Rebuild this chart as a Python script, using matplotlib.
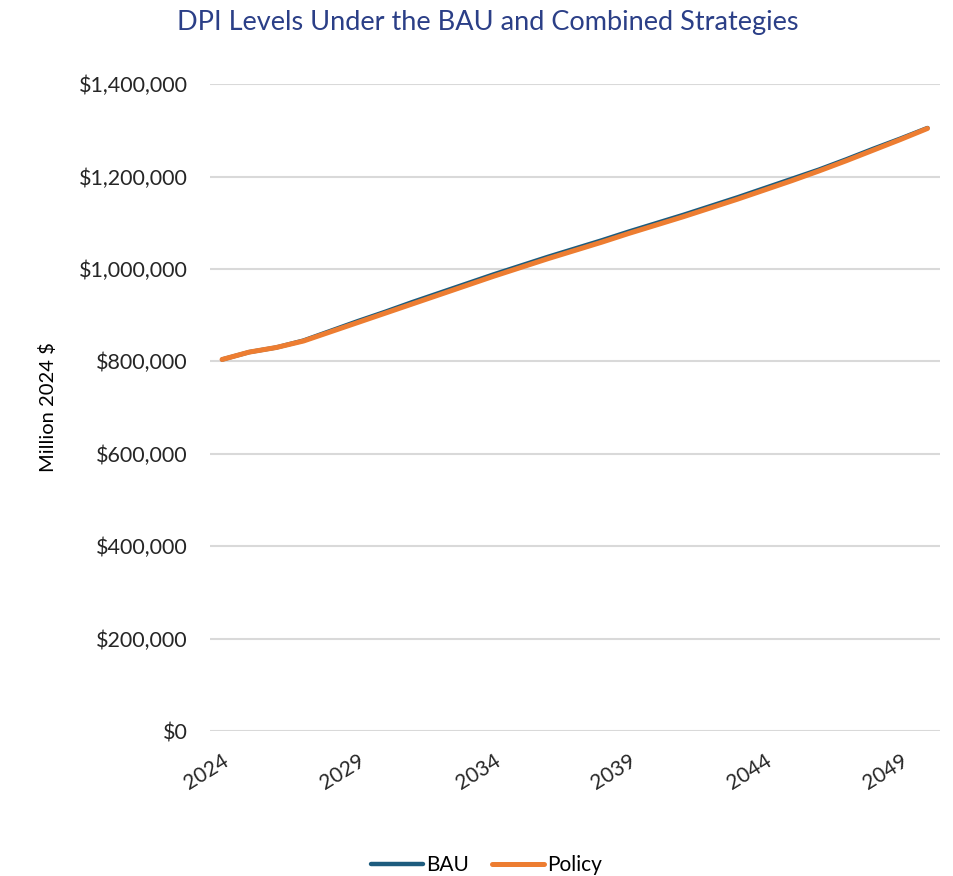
import matplotlib
matplotlib.use("Agg")
import matplotlib.pyplot as plt
from matplotlib.ticker import FuncFormatter, MultipleLocator

# Disposable personal income, million 2024 $
years = list(range(2024, 2051))
policy = [804, 820, 830, 844, 864, 884, 904, 924, 944, 964,
          984, 1003, 1022, 1040, 1058, 1077, 1095, 1113, 1132, 1151,
          1171, 1191, 1212, 1234, 1257, 1280, 1304]
bau_gap = [0, 0, 0, 1, 2, 3, 3, 4, 4, 4,
           4, 4, 4, 4, 4, 4, 4, 4, 4, 4,
           4, 4, 3, 3, 3, 2, 1]
bau = [p + g for p, g in zip(policy, bau_gap)]
bau = [v * 1000 for v in bau]
policy = [v * 1000 for v in policy]
tick_years = [2024, 2029, 2034, 2039, 2044, 2049]

plt.rcParams['font.family'] = ['Lato', 'DejaVu Sans']

fig = plt.figure(figsize=(9.54, 8.76), dpi=100)
ax = fig.add_axes([0.220, 0.1655, 0.765, 0.7385])

idx = list(range(len(years)))
ax.plot(idx, bau, color='#1D5C7E', lw=3.2, solid_capstyle='round', label='BAU', zorder=3)
ax.plot(idx, policy, color='#ED7D31', lw=3.6, solid_capstyle='round', label='Policy', zorder=4)

ax.set_xlim(-0.45, len(years) - 0.55)
ax.set_ylim(0, 1400000)
ax.yaxis.set_major_locator(MultipleLocator(200000))
ax.yaxis.set_major_formatter(FuncFormatter(lambda v, _: f"${v:,.0f}"))
ax.grid(axis='y', color='#D9D9D9', lw=1.5)
ax.set_axisbelow(True)
for s in ax.spines.values():
    s.set_visible(False)

ax.set_xticks([years.index(y) for y in tick_years])
ax.set_xticklabels([str(y) for y in tick_years], rotation=32, ha='right',
                   rotation_mode='anchor', fontsize=15, color='#262626')
ax.tick_params(axis='x', length=0, pad=14)
ax.tick_params(axis='y', length=0, pad=16, labelsize=15.5, labelcolor='#262626')

ax.set_ylabel('Million 2024 $', fontsize=14.5, color='#000000')
ax.yaxis.set_label_coords(-0.21, 0.5)

fig.text(0.511, 0.974, 'DPI Levels Under the BAU and Combined Strategies',
         ha='center', va='center', fontsize=19.5, color='#2B3F87')

fig.legend(loc='center', bbox_to_anchor=(0.51, 0.012), ncol=2, frameon=False,
           fontsize=15, handlelength=2.5, handletextpad=0.15, columnspacing=1.1)

fig.savefig('out.png', dpi=100)
